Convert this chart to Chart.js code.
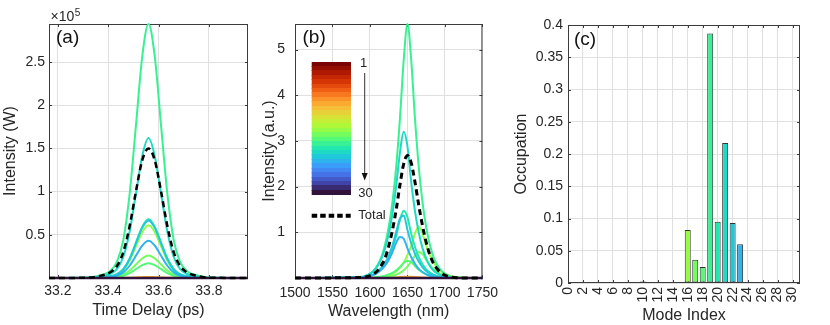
<!DOCTYPE html>
<html>
<head>
<meta charset="utf-8">
<script src="https://cdn.jsdelivr.net/npm/chart.js@4"></script>
<style>
  body { margin: 0; background: #fff; width: 830px; height: 325px; position: relative; overflow: hidden; }
  canvas { position: absolute; top: 0; }
</style>
</head>
<body>
<canvas id="chartA" width="260" height="325" style="left:0px"></canvas>
<canvas id="chartB" width="245" height="325" style="left:260px"></canvas>
<canvas id="chartC" width="325" height="325" style="left:505px"></canvas>
<script>
// ---- (a) pulse intensity vs time delay, values in units of 1e5 W ----
const timeDelay = [33.165, 33.31, 33.36, 33.41, 33.435, 33.46, 33.485, 33.51, 33.535, 33.56, 33.585, 33.61, 33.635, 33.66, 33.685, 33.71, 33.76, 33.81, 33.955];
const timeTotal  = [0, 0.003, 0.02, 0.07, 0.14, 0.3, 0.6, 1.0, 1.36, 1.5, 1.36, 1.0, 0.6, 0.3, 0.14, 0.07, 0.02, 0.003, 0];
const timeMode19 = [0, 0.003, 0.024, 0.088, 0.19, 0.44, 0.97, 1.76, 2.56, 2.94, 2.56, 1.76, 0.97, 0.44, 0.19, 0.088, 0.024, 0.003, 0];
const timeMode21 = [0, 0.002, 0.013, 0.049, 0.105, 0.243, 0.535, 0.972, 1.41, 1.62, 1.41, 0.972, 0.535, 0.243, 0.105, 0.049, 0.013, 0.002, 0];
const timeMode20 = [0, 0.001, 0.005, 0.02, 0.044, 0.102, 0.224, 0.408, 0.592, 0.68, 0.592, 0.408, 0.224, 0.102, 0.044, 0.02, 0.005, 0.001, 0];
const timeMode22 = [0, 0.001, 0.005, 0.02, 0.043, 0.1, 0.22, 0.4, 0.58, 0.665, 0.58, 0.4, 0.22, 0.1, 0.043, 0.02, 0.005, 0.001, 0];
const timeMode16 = [0, 0.001, 0.005, 0.018, 0.04, 0.092, 0.2, 0.366, 0.531, 0.61, 0.531, 0.366, 0.2, 0.092, 0.04, 0.018, 0.005, 0.001, 0];
const timeMode23 = [0, 0, 0.003, 0.013, 0.028, 0.065, 0.142, 0.258, 0.374, 0.43, 0.374, 0.258, 0.142, 0.065, 0.028, 0.013, 0.003, 0, 0];
const timeMode17 = [0, 0, 0.002, 0.008, 0.017, 0.039, 0.086, 0.156, 0.226, 0.26, 0.226, 0.156, 0.086, 0.039, 0.017, 0.008, 0.002, 0, 0];
const timeMode18 = [0, 0, 0.001, 0.005, 0.011, 0.026, 0.056, 0.102, 0.148, 0.17, 0.148, 0.102, 0.056, 0.026, 0.011, 0.005, 0.001, 0, 0];
const timeMode10 = [0, 0, 0, 0, 0.001, 0.002, 0.004, 0.007, 0.01, 0.012, 0.01, 0.007, 0.004, 0.002, 0.001, 0, 0, 0, 0];
const timeEmpty  = [0, 0, 0, 0, 0, 0, 0, 0, 0, 0, 0, 0, 0, 0, 0, 0, 0, 0, 0];
const timeTicks = [33.2, 33.4, 33.6, 33.8];
const powerTicks = [0.5, 1, 1.5, 2, 2.5];

// ---- (b) spectra ----
const wavelength = [1500, 1590, 1595, 1600, 1605, 1610, 1615, 1620, 1625, 1630, 1635, 1640, 1645, 1650, 1655, 1660, 1665, 1670, 1675, 1680, 1685, 1690, 1695, 1700, 1705, 1710, 1715, 1720, 1750];
const specTotal  = [0, 0.013, 0.027, 0.054, 0.094, 0.16, 0.27, 0.43, 0.7, 1.05, 1.5, 2.04, 2.5, 2.68, 2.52, 2.1, 1.6, 1.15, 0.78, 0.5, 0.31, 0.19, 0.11, 0.06, 0.03, 0.015, 0.007, 0.003, 0];
const specMode19 = [0, 0.022, 0.05, 0.094, 0.167, 0.278, 0.444, 0.72, 1.11, 1.665, 2.44, 3.5, 4.77, 5.56, 4.77, 3.5, 2.44, 1.665, 1.11, 0.72, 0.444, 0.278, 0.167, 0.094, 0.05, 0.022, 0.011, 0.006, 0];
const specMode21 = [0, 0.029, 0.054, 0.096, 0.16, 0.256, 0.416, 0.64, 0.96, 1.41, 2.02, 2.75, 3.2, 2.88, 2.1, 1.47, 1.0, 0.66, 0.43, 0.26, 0.16, 0.1, 0.054, 0.029, 0.013, 0.006, 0.003, 0, 0];
const specMode20 = [0, 0.013, 0.025, 0.044, 0.074, 0.118, 0.19, 0.294, 0.44, 0.647, 0.926, 1.27, 1.47, 1.33, 0.97, 0.68, 0.46, 0.3, 0.19, 0.12, 0.074, 0.044, 0.025, 0.013, 0.006, 0.003, 0.001, 0, 0];
const specMode22 = [0, 0.015, 0.03, 0.05, 0.085, 0.14, 0.22, 0.33, 0.49, 0.71, 1.01, 1.3, 1.37, 1.05, 0.76, 0.53, 0.36, 0.24, 0.15, 0.097, 0.059, 0.035, 0.019, 0.01, 0.004, 0.002, 0.001, 0, 0];
const specMode23 = [0, 0.015, 0.027, 0.045, 0.072, 0.117, 0.18, 0.27, 0.396, 0.567, 0.774, 0.9, 0.86, 0.65, 0.46, 0.31, 0.2, 0.13, 0.08, 0.05, 0.03, 0.017, 0.009, 0.004, 0.002, 0.001, 0, 0, 0];
const specMode16 = [0, 0, 0.001, 0.002, 0.005, 0.01, 0.019, 0.034, 0.057, 0.09, 0.147, 0.226, 0.34, 0.5, 0.71, 0.97, 1.13, 0.97, 0.71, 0.5, 0.34, 0.226, 0.147, 0.09, 0.057, 0.034, 0.019, 0.01, 0];
const specMode17 = [0, 0, 0, 0.001, 0.003, 0.005, 0.01, 0.017, 0.029, 0.046, 0.074, 0.114, 0.171, 0.25, 0.36, 0.49, 0.57, 0.53, 0.4, 0.28, 0.19, 0.128, 0.085, 0.054, 0.034, 0.02, 0.011, 0.006, 0];
const specMode18 = [0, 0.002, 0.004, 0.007, 0.012, 0.02, 0.031, 0.05, 0.076, 0.114, 0.167, 0.24, 0.33, 0.38, 0.35, 0.26, 0.18, 0.125, 0.084, 0.055, 0.036, 0.022, 0.014, 0.008, 0.004, 0.002, 0.001, 0, 0];
const specMode10 = [0, 0, 0, 0, 0, 0.001, 0.002, 0.003, 0.005, 0.009, 0.015, 0.022, 0.028, 0.03, 0.028, 0.022, 0.015, 0.009, 0.005, 0.003, 0.002, 0.001, 0, 0, 0, 0, 0, 0, 0];
const specEmpty  = [0, 0, 0, 0, 0, 0, 0, 0, 0, 0, 0, 0, 0, 0, 0, 0, 0, 0, 0, 0, 0, 0, 0, 0, 0, 0, 0, 0, 0];
const wavelengthTicks = [1500, 1550, 1600, 1650, 1700, 1750];
const spectrumTicks = [1, 2, 3, 4, 5];

// ---- (c) mode occupation ----
const modeIndex = [1, 2, 3, 4, 5, 6, 7, 8, 9, 10, 11, 12, 13, 14, 15, 16, 17, 18, 19, 20, 21, 22, 23, 24, 25, 26, 27, 28, 29, 30];
const occupation = [0, 0, 0, 0, 0, 0, 0, 0, 0.0005, 0.0025, 0, 0, 0.0008, 0, 0, 0.082, 0.036, 0.025, 0.387, 0.095, 0.217, 0.093, 0.06, 0, 0.0005, 0, 0, 0, 0, 0];
const modeTicks = [0, 2, 4, 6, 8, 10, 12, 14, 16, 18, 20, 22, 24, 26, 28, 30];
const occupationTicks = [0, 0.05, 0.1, 0.15, 0.2, 0.25, 0.3, 0.35, 0.4];

// turbo colormap, mode 1 = dark red ... mode 30 = dark purple
const TURBO = ['#30123b', '#4145ab', '#4675ed', '#39a2fc', '#1bcfd4', '#24eca6', '#61fc6c', '#a4fc3b',
               '#d1e834', '#f3c63a', '#fe9b2d', '#f36315', '#d93806', '#b11901', '#7a0403'];
function turbo(t) {
    const p = Math.max(0, Math.min(1, t)) * (TURBO.length - 1);
    const i = Math.min(Math.floor(p), TURBO.length - 2);
    const f = p - i;
    const a = parseInt(TURBO[i].slice(1), 16), b = parseInt(TURBO[i + 1].slice(1), 16);
    const mix = sh => Math.round(((a >> sh) & 255) * (1 - f) + ((b >> sh) & 255) * f);
    return `rgb(${mix(16)},${mix(8)},${mix(0)})`;
}
function modeColor(k) { return turbo((30 - k) / 29); }

const GRID = '#e0e0e0';
const AXIS = '#3c3c3c';
const TEXT = '#262626';
const FONT = '"Liberation Sans", Arial, Helvetica, sans-serif';

Chart.defaults.font.family = FONT;
Chart.defaults.font.size = 14;
Chart.defaults.color = TEXT;
Chart.defaults.animation = false;
Chart.defaults.plugins.legend.display = false;
Chart.defaults.plugins.tooltip.enabled = false;

function fixedTicks(values) {
    return scale => { scale.ticks = values.map(v => ({ value: v })); };
}

function lineSet(xs, ys, color, extra) {
    return Object.assign({
        data: xs.map((x, i) => ({ x: x, y: ys[i] })),
        borderColor: color,
        borderWidth: 2,
        pointRadius: 0,
        fill: false,
        clip: false,
        cubicInterpolationMode: 'monotone'
    }, extra || {});
}

function axis(min, max, ticks, title, size, pad, titlePad, extra) {
    return Object.assign({
        type: 'linear',
        min: min,
        max: max,
        afterBuildTicks: fixedTicks(ticks),
        afterFit: s => { if (s.isHorizontal()) s.height = size; else s.width = size; },
        grid: { color: GRID, drawTicks: false },
        border: { display: false },
        ticks: { padding: pad, autoSkip: false, maxRotation: 0, callback: v => String(v) },
        title: { display: true, text: title, font: { size: 16 }, padding: titlePad }
    }, extra || {});
}

// MATLAB style box with inward tick marks
const boxPlugin = {
    id: 'matlabBox',
    beforeDatasetsDraw(chart) {
        const { ctx, chartArea: a, scales } = chart;
        ctx.save();
        ctx.strokeStyle = AXIS;
        ctx.lineWidth = 1;
        ctx.strokeRect(a.left + 0.5, a.top + 0.5, a.right - a.left - 1, a.bottom - a.top - 1);
        ctx.beginPath();
        scales.x.ticks.forEach(t => {
            const px = Math.round(scales.x.getPixelForValue(t.value)) + 0.5;
            ctx.moveTo(px, a.bottom); ctx.lineTo(px, a.bottom - 3);
            ctx.moveTo(px, a.top); ctx.lineTo(px, a.top + 3);
        });
        scales.y.ticks.forEach(t => {
            const py = Math.round(scales.y.getPixelForValue(t.value)) + 0.5;
            ctx.moveTo(a.left, py); ctx.lineTo(a.left + 3, py);
            ctx.moveTo(a.right, py); ctx.lineTo(a.right - 3, py);
        });
        ctx.stroke();
        ctx.restore();
    }
};

function panelLabel(ctx, text, x, y) {
    ctx.font = '19px ' + FONT;
    ctx.fillStyle = '#111';
    ctx.textAlign = 'left';
    ctx.textBaseline = 'middle';
    ctx.fillText(text, x, y);
}

// ---------- (a) ----------
const timeLines = [
    lineSet(timeDelay, timeTotal, '#000', { borderDash: [6, 4], borderWidth: 2.5 }),
    lineSet(timeDelay, timeEmpty, modeColor(30), { borderWidth: 2.5 }),
    lineSet(timeDelay, timeMode23, modeColor(23)),
    lineSet(timeDelay, timeMode22, modeColor(22)),
    lineSet(timeDelay, timeMode21, modeColor(21)),
    lineSet(timeDelay, timeMode20, modeColor(20)),
    lineSet(timeDelay, timeMode19, modeColor(19)),
    lineSet(timeDelay, timeMode18, modeColor(18)),
    lineSet(timeDelay, timeMode17, modeColor(17)),
    lineSet(timeDelay, timeMode16, modeColor(16)),
    lineSet(timeDelay, timeMode10, modeColor(10))
];

new Chart(document.getElementById('chartA'), {
    type: 'line',
    data: { datasets: timeLines },
    options: {
        responsive: false,
        layout: { padding: { left: 0, top: 24, right: 12, bottom: 0 } },
        scales: {
            x: axis(33.165, 33.955, timeTicks, 'Time Delay (ps)', 47, 5, { top: 0, bottom: 5 }),
            y: axis(0, 2.94, powerTicks, 'Intensity (W)', 49, 4, { top: 1, bottom: 0 })
        }
    },
    plugins: [boxPlugin, {
        id: 'timeNotes',
        afterDraw(chart) {
            const { ctx, chartArea: a } = chart;
            ctx.save();
            panelLabel(ctx, '(a)', a.left + 7, a.top + 14);
            ctx.fillStyle = TEXT;
            ctx.textBaseline = 'alphabetic';
            ctx.font = '14px ' + FONT;
            const base = '\u00d710';
            ctx.fillText(base, a.left + 1.5, a.top - 3.5);
            const w = ctx.measureText(base).width;
            ctx.font = '10px ' + FONT;
            ctx.fillText('5', a.left + 2 + w, a.top - 8);
            ctx.restore();
        }
    }]
});

// ---------- (b) ----------
const specLines = [
    lineSet(wavelength, specTotal, '#000', { borderDash: [6, 4], borderWidth: 3 }),
    lineSet(wavelength, specEmpty, modeColor(30), { borderWidth: 2.5 }),
    lineSet(wavelength, specMode23, modeColor(23)),
    lineSet(wavelength, specMode22, modeColor(22)),
    lineSet(wavelength, specMode21, modeColor(21)),
    lineSet(wavelength, specMode20, modeColor(20)),
    lineSet(wavelength, specMode19, modeColor(19)),
    lineSet(wavelength, specMode18, modeColor(18)),
    lineSet(wavelength, specMode17, modeColor(17)),
    lineSet(wavelength, specMode16, modeColor(16)),
    lineSet(wavelength, specMode10, modeColor(10))
];

new Chart(document.getElementById('chartB'), {
    type: 'line',
    data: { datasets: specLines },
    options: {
        responsive: false,
        layout: { padding: { left: 0, top: 24, right: 3, bottom: 0 } },
        scales: {
            x: axis(1500, 1750, wavelengthTicks, 'Wavelength (nm)', 47, 7, { top: 0, bottom: 4 }),
            y: axis(0, 5.56, spectrumTicks, 'Intensity (a.u.)', 35, 10, { top: 0, bottom: 0 })
        }
    },
    plugins: [boxPlugin, {
        id: 'specNotes',
        afterDraw(chart) {
            const { ctx, chartArea: a } = chart;
            ctx.save();
            panelLabel(ctx, '(b)', a.left + 7.5, a.top + 14);

            // colorbar, mode 1 at the top
            const cx = a.left + 16.7, cy = a.top + 38, cw = 39.3, ch = 132.7;
            modeIndex.forEach((k, i) => {
                ctx.fillStyle = modeColor(k);
                const y0 = Math.floor(cy + i * ch / 30);
                const y1 = Math.ceil(cy + (i + 1) * ch / 30);
                ctx.fillRect(cx, y0, cw, y1 - y0);
            });

            // arrow 1 -> 30
            const ax = a.left + 69.7;
            ctx.strokeStyle = '#333';
            ctx.lineWidth = 1;
            ctx.beginPath();
            ctx.moveTo(ax, a.top + 49);
            ctx.lineTo(ax, a.top + 151);
            ctx.stroke();
            ctx.fillStyle = '#111';
            ctx.beginPath();
            ctx.moveTo(ax - 3, a.top + 149);
            ctx.lineTo(ax + 3, a.top + 149);
            ctx.lineTo(ax, a.top + 156.5);
            ctx.closePath();
            ctx.fill();

            ctx.font = '13px ' + FONT;
            ctx.fillStyle = TEXT;
            ctx.textBaseline = 'middle';
            ctx.textAlign = 'center';
            ctx.fillText('1', a.left + 68.5, a.top + 39.5);
            ctx.textAlign = 'left';
            ctx.fillText('30', a.left + 63.3, a.top + 169);

            // legend entry for the total
            ctx.strokeStyle = '#000';
            ctx.lineWidth = 4;
            ctx.setLineDash([5.5, 3]);
            ctx.beginPath();
            ctx.moveTo(cx, a.top + 191.7);
            ctx.lineTo(cx + 39, a.top + 191.7);
            ctx.stroke();
            ctx.setLineDash([]);
            ctx.fillText('Total', a.left + 63.3, a.top + 191.7);
            ctx.restore();
        }
    }]
});

// ---------- (c) ----------
new Chart(document.getElementById('chartC'), {
    type: 'bar',
    data: {
        datasets: [{
            data: modeIndex.map((k, i) => ({ x: k, y: occupation[i] })),
            backgroundColor: modeIndex.map(modeColor),
            borderColor: '#333',
            borderWidth: 1,
            borderSkipped: false,
            barPercentage: 1,
            categoryPercentage: 0.8
        }]
    },
    options: {
        responsive: false,
        layout: { padding: { left: 0, top: 25, right: 30, bottom: 0 } },
        scales: {
            x: axis(0, 31, modeTicks, 'Mode Index', 42, 4, { top: 0, bottom: 0 }, {
                offset: false,
                ticks: { padding: 4, autoSkip: false, minRotation: 90, maxRotation: 90, callback: v => String(v) },
                grid: { color: GRID, drawTicks: false, offset: false }
            }),
            y: axis(0, 0.4, occupationTicks, 'Occupation', 63, 5, { top: 7, bottom: 0 })
        }
    },
    plugins: [boxPlugin, {
        id: 'occNotes',
        afterDraw(chart) {
            const { ctx, chartArea: a } = chart;
            ctx.save();
            panelLabel(ctx, '(c)', a.left + 6, a.top + 15);
            ctx.restore();
        }
    }]
});
</script>
</body>
</html>
